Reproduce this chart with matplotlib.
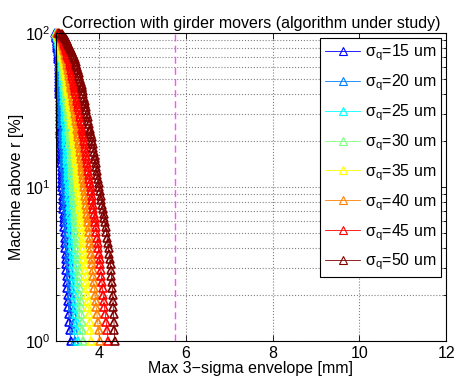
"""
Machine fraction above a given 3-sigma envelope, girder mover correction
"""
import numpy as np
import matplotlib.pyplot as plt

plt.rcParams['font.family'] = ['Liberation Sans', 'DejaVu Sans']
plt.rcParams['mathtext.fontset'] = 'custom'
plt.rcParams['mathtext.rm'] = 'Liberation Sans'
plt.rcParams['mathtext.it'] = 'Liberation Sans:italic'
plt.rcParams['mathtext.sf'] = 'Liberation Sans'

# percentage of machines above r (shared y levels)
levels = [100, 99, 98, 96.5, 95, 93, 91,
          89, 87, 85, 82.5, 80, 77.5, 75, 72.5, 70, 67.5,
          65, 62.5, 60, 57.5, 55, 52.5, 50, 48, 46,
          45, 44, 42, 40, 38, 36, 34.5, 33, 31.5,
          30, 28.5, 27, 25.5, 24, 23, 22, 21,
          20, 19, 18, 17, 16, 15.2, 14.4, 13.6, 12.8, 12, 11.3, 10.6,
          10, 9.4, 8.8, 8.2, 7.7, 7.2, 6.7, 6.3, 5.9, 5.5, 5.1,
          4.7, 4.35, 4, 3.7, 3.4, 3.15,
          2.9, 2.65, 2.4, 2.2,
          2, 1.83, 1.67, 1.5, 1.33, 1.17, 1]

# max 3-sigma envelope [mm] for each quad sigma, same order as levels
env_15 = [2.980, 2.992, 2.998, 3.003, 3.008, 3.013, 3.018,
          3.022, 3.024, 3.028, 3.031, 3.035, 3.040, 3.044, 3.048, 3.052, 3.057,
          3.061, 3.063, 3.065, 3.067, 3.070, 3.072, 3.074, 3.077, 3.079,
          3.080, 3.081, 3.082, 3.083, 3.084, 3.086, 3.087, 3.088, 3.089,
          3.090, 3.093, 3.095, 3.098, 3.101, 3.103, 3.105, 3.108,
          3.110, 3.113, 3.116, 3.120, 3.123, 3.126, 3.129, 3.132, 3.136, 3.140, 3.143, 3.147,
          3.150, 3.155, 3.160, 3.165, 3.169, 3.174, 3.179, 3.184, 3.188, 3.193, 3.199,
          3.205, 3.211, 3.218, 3.224, 3.230, 3.236,
          3.242, 3.249, 3.257, 3.263,
          3.270, 3.279, 3.288, 3.299, 3.311, 3.324, 3.340]
env_20 = [3.000, 3.016, 3.022, 3.029, 3.035, 3.042, 3.047,
          3.052, 3.056, 3.060, 3.064, 3.069, 3.075, 3.080, 3.085, 3.091, 3.097,
          3.101, 3.103, 3.105, 3.107, 3.110, 3.112, 3.114, 3.117, 3.119,
          3.120, 3.121, 3.123, 3.126, 3.128, 3.131, 3.133, 3.135, 3.138,
          3.140, 3.144, 3.148, 3.152, 3.157, 3.160, 3.163, 3.166,
          3.170, 3.174, 3.178, 3.182, 3.186, 3.190, 3.194, 3.198, 3.202, 3.207, 3.211, 3.216,
          3.220, 3.225, 3.231, 3.237, 3.243, 3.248, 3.255, 3.260, 3.266, 3.272, 3.278,
          3.285, 3.291, 3.298, 3.304, 3.310, 3.316,
          3.323, 3.332, 3.342, 3.351,
          3.360, 3.370, 3.381, 3.394, 3.407, 3.422, 3.440]
env_25 = [3.000, 3.022, 3.031, 3.041, 3.049, 3.058, 3.066,
          3.073, 3.078, 3.083, 3.090, 3.097, 3.104, 3.111, 3.119, 3.127, 3.135,
          3.142, 3.146, 3.150, 3.154, 3.159, 3.164, 3.169, 3.173, 3.178,
          3.180, 3.182, 3.185, 3.189, 3.192, 3.197, 3.200, 3.203, 3.206,
          3.210, 3.214, 3.218, 3.222, 3.227, 3.230, 3.233, 3.236,
          3.240, 3.244, 3.249, 3.254, 3.259, 3.264, 3.268, 3.274, 3.278, 3.284, 3.289, 3.295,
          3.300, 3.305, 3.311, 3.317, 3.323, 3.328, 3.335, 3.340, 3.346, 3.352, 3.358,
          3.366, 3.374, 3.382, 3.390, 3.398, 3.405,
          3.413, 3.422, 3.432, 3.441,
          3.450, 3.458, 3.466, 3.475, 3.485, 3.496, 3.510]
env_30 = [3.010, 3.032, 3.041, 3.051, 3.059, 3.068, 3.076,
          3.083, 3.089, 3.095, 3.102, 3.110, 3.119, 3.127, 3.136, 3.145, 3.154,
          3.162, 3.168, 3.175, 3.182, 3.189, 3.196, 3.203, 3.210, 3.216,
          3.220, 3.223, 3.230, 3.237, 3.245, 3.253, 3.259, 3.266, 3.273,
          3.280, 3.286, 3.293, 3.300, 3.308, 3.313, 3.319, 3.324,
          3.330, 3.335, 3.341, 3.347, 3.352, 3.358, 3.363, 3.369, 3.375, 3.382, 3.387, 3.394,
          3.400, 3.406, 3.413, 3.420, 3.427, 3.433, 3.441, 3.447, 3.453, 3.460, 3.468,
          3.476, 3.484, 3.492, 3.500, 3.508, 3.515,
          3.523, 3.532, 3.542, 3.551,
          3.560, 3.569, 3.578, 3.589, 3.601, 3.614, 3.630]
env_35 = [3.020, 3.045, 3.055, 3.066, 3.076, 3.086, 3.095,
          3.104, 3.110, 3.117, 3.125, 3.134, 3.144, 3.153, 3.163, 3.173, 3.184,
          3.193, 3.201, 3.210, 3.219, 3.228, 3.238, 3.248, 3.256, 3.265,
          3.270, 3.274, 3.284, 3.293, 3.303, 3.314, 3.322, 3.331, 3.340,
          3.350, 3.359, 3.368, 3.378, 3.389, 3.396, 3.404, 3.412,
          3.420, 3.427, 3.435, 3.444, 3.452, 3.460, 3.467, 3.476, 3.484, 3.494, 3.502, 3.512,
          3.520, 3.528, 3.537, 3.546, 3.554, 3.562, 3.572, 3.580, 3.588, 3.597, 3.607,
          3.617, 3.626, 3.636, 3.645, 3.656, 3.664,
          3.674, 3.686, 3.698, 3.709,
          3.720, 3.733, 3.746, 3.762, 3.779, 3.797, 3.820]
env_40 = [3.030, 3.061, 3.074, 3.088, 3.100, 3.113, 3.124,
          3.135, 3.143, 3.153, 3.164, 3.176, 3.189, 3.201, 3.214, 3.227, 3.242,
          3.254, 3.264, 3.275, 3.286, 3.298, 3.310, 3.322, 3.333, 3.344,
          3.350, 3.355, 3.367, 3.379, 3.391, 3.405, 3.415, 3.426, 3.438,
          3.450, 3.460, 3.471, 3.482, 3.494, 3.502, 3.512, 3.520,
          3.530, 3.539, 3.550, 3.561, 3.572, 3.582, 3.591, 3.603, 3.613, 3.626, 3.637, 3.650,
          3.660, 3.670, 3.681, 3.692, 3.702, 3.712, 3.724, 3.734, 3.744, 3.755, 3.767,
          3.778, 3.789, 3.801, 3.811, 3.823, 3.833,
          3.845, 3.859, 3.873, 3.886,
          3.900, 3.914, 3.929, 3.946, 3.965, 3.985, 4.010]
env_45 = [3.050, 3.087, 3.103, 3.120, 3.134, 3.150, 3.163,
          3.176, 3.185, 3.197, 3.209, 3.223, 3.239, 3.253, 3.268, 3.283, 3.300,
          3.315, 3.327, 3.340, 3.353, 3.368, 3.382, 3.396, 3.410, 3.423,
          3.430, 3.436, 3.450, 3.465, 3.479, 3.496, 3.508, 3.521, 3.536,
          3.550, 3.564, 3.579, 3.594, 3.611, 3.622, 3.635, 3.647,
          3.660, 3.670, 3.681, 3.694, 3.705, 3.716, 3.726, 3.738, 3.750, 3.764, 3.775, 3.789,
          3.800, 3.813, 3.827, 3.841, 3.853, 3.866, 3.881, 3.894, 3.906, 3.920, 3.936,
          3.951, 3.964, 3.980, 3.993, 4.008, 4.021,
          4.035, 4.049, 4.063, 4.076,
          4.090, 4.106, 4.121, 4.140, 4.161, 4.182, 4.210]
env_50 = [3.080, 3.130, 3.150, 3.173, 3.192, 3.213, 3.230,
          3.248, 3.263, 3.280, 3.299, 3.320, 3.343, 3.364, 3.387, 3.410, 3.435,
          3.456, 3.471, 3.488, 3.504, 3.522, 3.540, 3.558, 3.575, 3.591,
          3.600, 3.606, 3.620, 3.635, 3.649, 3.666, 3.678, 3.691, 3.706,
          3.720, 3.735, 3.751, 3.768, 3.786, 3.798, 3.812, 3.826,
          3.840, 3.851, 3.864, 3.878, 3.891, 3.904, 3.915, 3.930, 3.942, 3.958, 3.971, 3.987,
          4.000, 4.015, 4.032, 4.049, 4.065, 4.080, 4.099, 4.114, 4.129, 4.146, 4.165,
          4.182, 4.197, 4.214, 4.229, 4.246, 4.260,
          4.273, 4.282, 4.292, 4.301,
          4.310, 4.317, 4.323, 4.331, 4.340, 4.349, 4.360]

sigmas = [15, 20, 25, 30, 35, 40, 45, 50]
envelopes = [env_15, env_20, env_25, env_30, env_35, env_40, env_45, env_50]
limit = 5.75  # dashed reference line [mm]

# jet(8) colours
colors = [(0, 0, 1), (0, 0.5, 1), (0, 1, 1), (0.5, 1, 0.5),
          (1, 1, 0), (1, 0.5, 0), (1, 0, 0), (0.5, 0, 0)]

fig = plt.figure(figsize=(4.58, 3.81), dpi=100)
ax = fig.add_axes([0.122, 0.105, 0.852, 0.808])

for sig, env, col in zip(sigmas, envelopes, colors):
    ax.plot(env, levels, '-^', color=col, lw=0.6, ms=6, mfc='none',
            mew=1.2, clip_on=False, label=u'\u03c3$_\\mathrm{q}$=%d um' % sig)

ax.axvline(limit, color=(1, 0.3, 1), ls='--', lw=1.0, dashes=(5, 3))

ax.set_yscale('log')
ax.set_xlim(3, 12)
ax.set_ylim(1, 100)
ax.set_xticks([4, 6, 8, 10, 12])
ax.grid(True, which='major', ls=':', color='0.5', lw=0.8)
ax.grid(True, which='minor', axis='y', ls=':', color='0.5', lw=0.8)
ax.tick_params(which='both', direction='in', top=True, right=True,
               labelsize=11.5, width=0.6)
ax.tick_params(which='major', length=4)
ax.tick_params(which='minor', length=2)
for sp in ax.spines.values():
    sp.set_linewidth(0.8)

ax.set_xlabel(u'Max 3\u2212sigma envelope [mm]', fontsize=11.5, labelpad=0)
ax.set_ylabel('Machine above r [%]', fontsize=11.5, labelpad=1)
ax.set_title('Correction with girder movers (algorithm under study)',
             fontsize=11.5, pad=4)

leg = ax.legend(loc='upper right', numpoints=1, fontsize=11.5,
                handlelength=2.2, labelspacing=0.58, borderaxespad=0.3,
                fancybox=False, framealpha=1, edgecolor='k',
                handletextpad=0.3, borderpad=0.3)
leg.get_frame().set_linewidth(0.8)
for h in leg.legend_handles:
    h.set_markeredgewidth(0.8)

fig.savefig('out.png', dpi=100)
